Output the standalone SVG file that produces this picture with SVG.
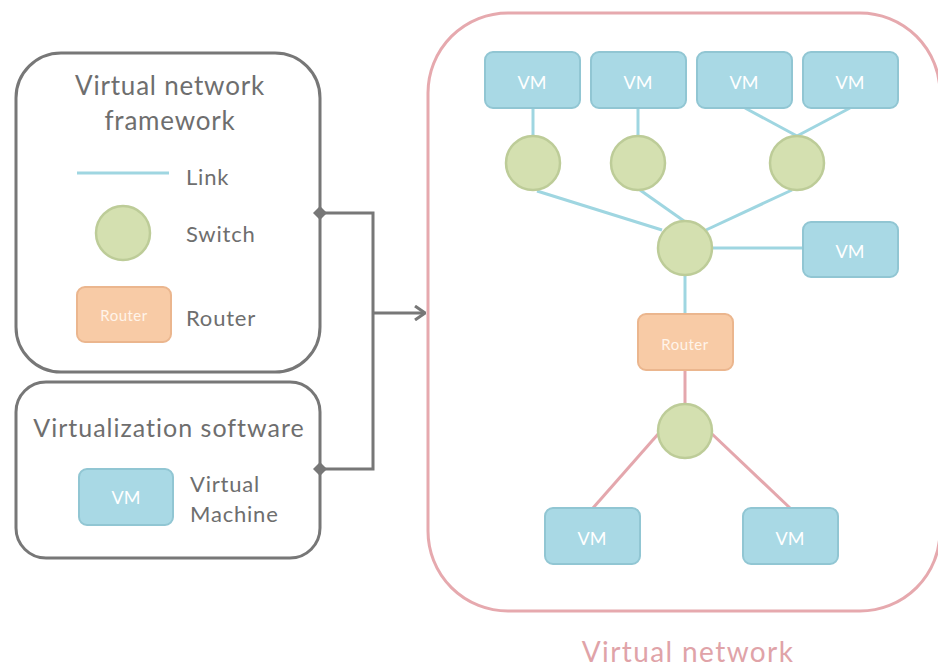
<svg xmlns="http://www.w3.org/2000/svg" width="938" height="668" viewBox="0 0 938 668">
<defs>
<style>
.t{font-family:Lato,"Open Sans",sans-serif;fill:#6e6e6e;letter-spacing:0.8px}
.vm{fill:#a9d9e5;stroke:#91c6d3;stroke-width:2}
.vt{font-family:Lato,"Open Sans",sans-serif;fill:#ffffff;font-size:18px;text-anchor:middle}
.sw{fill:#d4e0b0;stroke:#bdcc98;stroke-width:2.5}
.rt{fill:#f8cba6;stroke:#ebb68e;stroke-width:2}
.rtt{font-family:Lato,"Open Sans",sans-serif;fill:#fff4ea;font-size:15px;text-anchor:middle;letter-spacing:0.5px}
.lk{stroke:#9fd6e1;stroke-width:3;fill:none}
.pk{stroke:#e4a7ad;stroke-width:3;fill:none}
.gr{stroke:#777777;stroke-width:3;fill:none}
</style>
<marker id="arr" viewBox="0 0 12 16" refX="11" refY="8" markerWidth="12" markerHeight="16" markerUnits="userSpaceOnUse" orient="auto">
<path d="M1,1 L11,8 L1,15" fill="none" stroke="#777777" stroke-width="3"/>
</marker>
</defs>
<rect width="938" height="668" fill="#ffffff"/>

<g id="framework">
<rect x="16" y="53" width="304" height="319" rx="45" fill="#fff" stroke="#777" stroke-width="3"/>
<text class="t" x="170" y="95" font-size="26" text-anchor="middle">Virtual network</text>
<text class="t" x="170" y="130" font-size="26" text-anchor="middle">framework</text>
<line x1="77" y1="173" x2="169" y2="173" class="lk"/>
<text class="t" x="186" y="185" font-size="22">Link</text>
<circle cx="123" cy="233" r="27" class="sw"/>
<text class="t" x="186" y="242" font-size="22">Switch</text>
<rect x="77" y="287" width="94" height="55" rx="8" class="rt"/>
<text class="rtt" x="124" y="321">Router</text>
<text class="t" x="186" y="326" font-size="22">Router</text>
</g>

<g id="virtualization">
<rect x="16" y="382" width="304" height="176" rx="30" fill="#fff" stroke="#777" stroke-width="3"/>
<text class="t" x="169" y="437" font-size="25" text-anchor="middle" style="letter-spacing:1px">Virtualization software</text>
<rect x="79" y="469" width="94" height="56" rx="8" class="vm"/>
<text class="vt" x="126" y="504">VM</text>
<text class="t" x="190" y="492" font-size="22">Virtual</text>
<text class="t" x="190" y="522" font-size="22">Machine</text>
</g>

<g id="connectors">
<path d="M320,213 H373 V469 H320" class="gr"/>
<path d="M373,313 H425" class="gr" marker-end="url(#arr)"/>
<path d="M320,206 L327,213 L320,220 L313,213 Z" fill="#777"/>
<path d="M320,462 L327,469 L320,476 L313,469 Z" fill="#777"/>
<line x1="533" y1="108" x2="533" y2="136" class="lk"/>
<line x1="638" y1="108" x2="638" y2="136" class="lk"/>
<line x1="745" y1="108" x2="797" y2="136" class="lk"/>
<line x1="850" y1="108" x2="797" y2="136" class="lk"/>
<line x1="537" y1="191" x2="662" y2="230" class="lk"/>
<line x1="640" y1="190" x2="684" y2="221" class="lk"/>
<line x1="792" y1="190" x2="706" y2="230" class="lk"/>
<line x1="712" y1="248" x2="803" y2="248" class="lk"/>
<line x1="685" y1="275" x2="685" y2="314" class="lk"/>
<line x1="685" y1="370" x2="685" y2="404" class="pk"/>
<line x1="659" y1="433" x2="593" y2="508" class="pk"/>
<line x1="711" y1="433" x2="790" y2="508" class="pk"/>
</g>

<g id="virtual-network">
<rect x="428" y="13" width="512" height="598" rx="80" fill="none" stroke="#e6a9ae" stroke-width="3"/>
<text x="688" y="662" font-family="Lato,'Open Sans',sans-serif" font-size="28" fill="#e0a3a8" text-anchor="middle" letter-spacing="1.4">Virtual network</text>
</g>

<g id="vm1"><rect x="485" y="52" width="95" height="56" rx="8" class="vm"/><text class="vt" x="532" y="89">VM</text></g>
<g id="vm2"><rect x="591" y="52" width="95" height="56" rx="8" class="vm"/><text class="vt" x="638" y="89">VM</text></g>
<g id="vm3"><rect x="697" y="52" width="95" height="56" rx="8" class="vm"/><text class="vt" x="744" y="89">VM</text></g>
<g id="vm4"><rect x="803" y="52" width="95" height="56" rx="8" class="vm"/><text class="vt" x="850" y="89">VM</text></g>
<g id="sw1"><circle cx="533" cy="163" r="27" class="sw"/></g>
<g id="sw2"><circle cx="638" cy="163" r="27" class="sw"/></g>
<g id="sw3"><circle cx="797" cy="163" r="27" class="sw"/></g>
<g id="sw-core"><circle cx="685" cy="248" r="27" class="sw"/></g>
<g id="vm5"><rect x="803" y="222" width="95" height="55" rx="8" class="vm"/><text class="vt" x="850" y="258">VM</text></g>
<g id="router"><rect x="638" y="314" width="95" height="56" rx="8" class="rt"/><text class="rtt" x="685" y="350">Router</text></g>
<g id="sw-lower"><circle cx="685" cy="431" r="27" class="sw"/></g>
<g id="vm6"><rect x="545" y="508" width="95" height="56" rx="8" class="vm"/><text class="vt" x="592" y="545">VM</text></g>
<g id="vm7"><rect x="743" y="508" width="95" height="56" rx="8" class="vm"/><text class="vt" x="790" y="545">VM</text></g>
</svg>
